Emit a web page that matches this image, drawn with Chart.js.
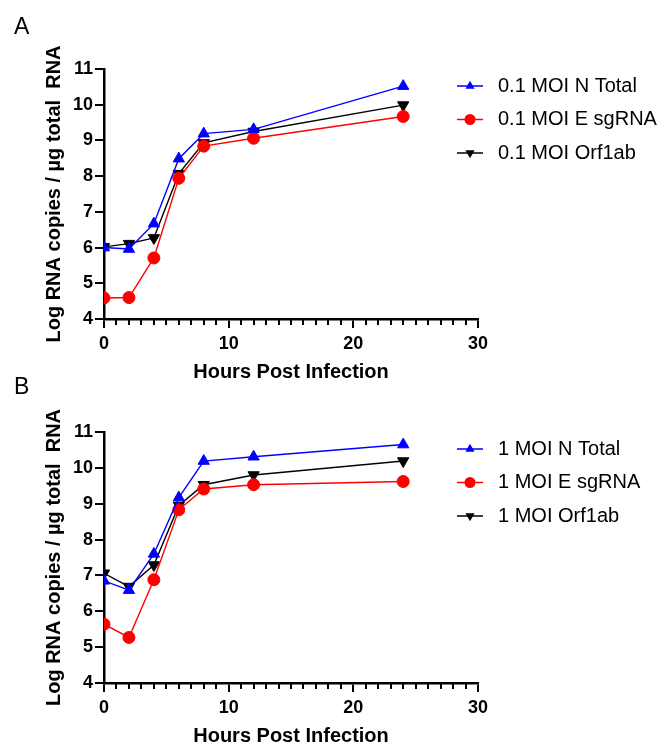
<!DOCTYPE html>
<html><head><meta charset="utf-8">
<script src="https://cdn.jsdelivr.net/npm/chart.js@4/dist/chart.umd.min.js"></script>
<style>
body{margin:0;background:#fff;width:668px;height:752px;position:relative;overflow:hidden;font-family:"Liberation Sans",Arial,sans-serif}
.panel{position:absolute;left:0;width:668px}
.letter{position:absolute;left:14px;font-size:23px;line-height:1;color:#000}
</style></head><body>
<div class="panel" style="top:0;height:382px"><canvas id="cA" width="668" height="382"></canvas></div>
<div class="panel" style="top:382px;height:370px"><canvas id="cB" width="668" height="370"></canvas></div>
<div class="letter" style="top:15px">A</div>
<div class="letter" style="top:375px">B</div>
<script>
const hours = [0, 2, 4, 6, 8, 12, 24];
const xTickLabels = [0, 10, 20, 30];
const yTickLabels = [4, 5, 6, 7, 8, 9, 10, 11];

const labelsA = ['0.1 MOI N Total', '0.1 MOI E sgRNA', '0.1 MOI Orf1ab'];
const a_nTotal = [6.00, 5.96, 6.67, 8.49, 9.19, 9.31, 10.52];
const a_eSgRNA = [4.59, 4.60, 5.71, 7.94, 8.84, 9.06, 9.67];
const a_orf1ab = [6.02, 6.11, 6.27, 8.07, 8.93, 9.25, 9.99];

const labelsB = ['1 MOI N Total', '1 MOI E sgRNA', '1 MOI Orf1ab'];
const b_nTotal = [6.85, 6.59, 7.60, 9.17, 10.19, 10.31, 10.65];
const b_eSgRNA = [5.64, 5.27, 6.88, 8.83, 9.41, 9.53, 9.62];
const b_orf1ab = [7.06, 6.69, 7.29, 8.95, 9.53, 9.80, 10.19];

const yTitle = 'Log RNA copies / \u00B5g total  RNA';
const xTitle = 'Hours Post Infection';
const FONT = '"Liberation Sans", Arial, sans-serif';

const styles = [
  {color: '#0000FF', pointStyle: 'triangle', rotation: 0, radius: 6.5, legendRadius: 5.3},
  {color: '#FF0000', pointStyle: 'circle', rotation: 0, radius: 6, legendRadius: 5.5},
  {color: '#000000', pointStyle: 'triangle', rotation: 180, radius: 6.5, legendRadius: 5.3}
];

function mkDatasets(labels, series) {
  return series.map((vals, i) => ({
    label: labels[i],
    data: hours.map((h, j) => ({x: h, y: vals[j]})),
    borderColor: styles[i].color,
    backgroundColor: styles[i].color,
    borderWidth: 1.4,
    pointStyle: styles[i].pointStyle,
    pointRotation: styles[i].rotation,
    pointRadius: styles[i].radius,
    pointBorderWidth: 1,
    pointBackgroundColor: styles[i].color,
    pointBorderColor: styles[i].color,
    tension: 0,
    fill: false
  }));
}

function drawMarker(ctx, st, x, y) {
  ctx.fillStyle = st.color;
  ctx.beginPath();
  const r = st.legendRadius;
  if (st.pointStyle === 'circle') {
    ctx.arc(x, y, r, 0, Math.PI * 2);
  } else {
    const base = (st.rotation === 180 ? Math.PI / 2 : -Math.PI / 2);
    for (let k = 0; k < 3; k++) {
      const a = base + k * 2 * Math.PI / 3;
      const px = x + r * Math.cos(a), py = y + r * Math.sin(a);
      if (k === 0) ctx.moveTo(px, py); else ctx.lineTo(px, py);
    }
    ctx.closePath();
  }
  ctx.fill();
}

const decor = {
  id: 'decor',
  afterDraw(chart) {
    const ctx = chart.ctx, xs = chart.scales.x, area = chart.chartArea;
    ctx.save();
    ctx.strokeStyle = '#000';
    ctx.lineWidth = 2;
    for (const t of xs.ticks) {
      if (!xTickLabels.includes(t.value)) {
        const px = Math.round(xs.getPixelForValue(t.value));
        ctx.beginPath();
        ctx.moveTo(px, area.bottom);
        ctx.lineTo(px, area.bottom + 6);
        ctx.stroke();
      }
    }
    chart.data.datasets.forEach((ds, i) => {
      const y = area.top + 17 + i * 33.5;
      ctx.strokeStyle = ds.borderColor;
      ctx.lineWidth = 1.5;
      ctx.beginPath();
      ctx.moveTo(457, y);
      ctx.lineTo(483, y);
      ctx.stroke();
      drawMarker(ctx, styles[i], 470, y);
      ctx.fillStyle = '#000';
      ctx.font = '20px ' + FONT;
      ctx.textBaseline = 'middle';
      ctx.textAlign = 'left';
      ctx.fillText(ds.label, 498, y);
    });
    ctx.restore();
  }
};

function makeChart(id, labels, series, padTop, padBottom) {
  return new Chart(document.getElementById(id), {
    type: 'line',
    data: {datasets: mkDatasets(labels, series)},
    options: {
      responsive: false,
      animation: false,
      layout: {padding: {left: 44, top: padTop, right: 190, bottom: padBottom}},
      plugins: {legend: {display: false}, tooltip: {enabled: false}},
      scales: {
        x: {
          type: 'linear', min: 0, max: 30,
          afterFit(s) { s.height = 63; },
          border: {color: '#000', width: 2.5},
          grid: {
            drawOnChartArea: false, drawTicks: true, tickLength: 9,
            color: (c) => (c.tick && xTickLabels.includes(c.tick.value)) ? '#000' : 'rgba(0,0,0,0)',
            lineWidth: 2
          },
          ticks: {
            stepSize: 1, autoSkip: false, maxRotation: 0, padding: 5,
            color: '#000',
            font: {family: FONT, size: 18, weight: 'bold'},
            callback: (v) => xTickLabels.includes(v) ? String(v) : ''
          },
          title: {display: true, text: xTitle, color: '#000', padding: 0,
            font: {family: FONT, size: 20, weight: 'bold', lineHeight: 1}}
        },
        y: {
          type: 'linear', min: 4, max: 11,
          afterFit(s) { s.width = 60; },
          border: {color: '#000', width: 2.5},
          grid: {drawOnChartArea: false, drawTicks: true, tickLength: 9, color: '#000', lineWidth: 2},
          ticks: {
            stepSize: 1, padding: 2, color: '#000',
            font: {family: FONT, size: 18, weight: 'bold'},
            callback: (v) => yTickLabels.includes(v) ? String(v) : ''
          },
          title: {display: true, text: yTitle, color: '#000', padding: 0,
            font: {family: FONT, size: 20, weight: 'bold', lineHeight: 1}}
        }
      }
    },
    plugins: [decor]
  });
}

makeChart('cA', labelsA, [a_nTotal, a_eSgRNA, a_orf1ab], 69, 0);
makeChart('cB', labelsB, [b_nTotal, b_eSgRNA, b_orf1ab], 50, 6);
</script>
</body></html>
